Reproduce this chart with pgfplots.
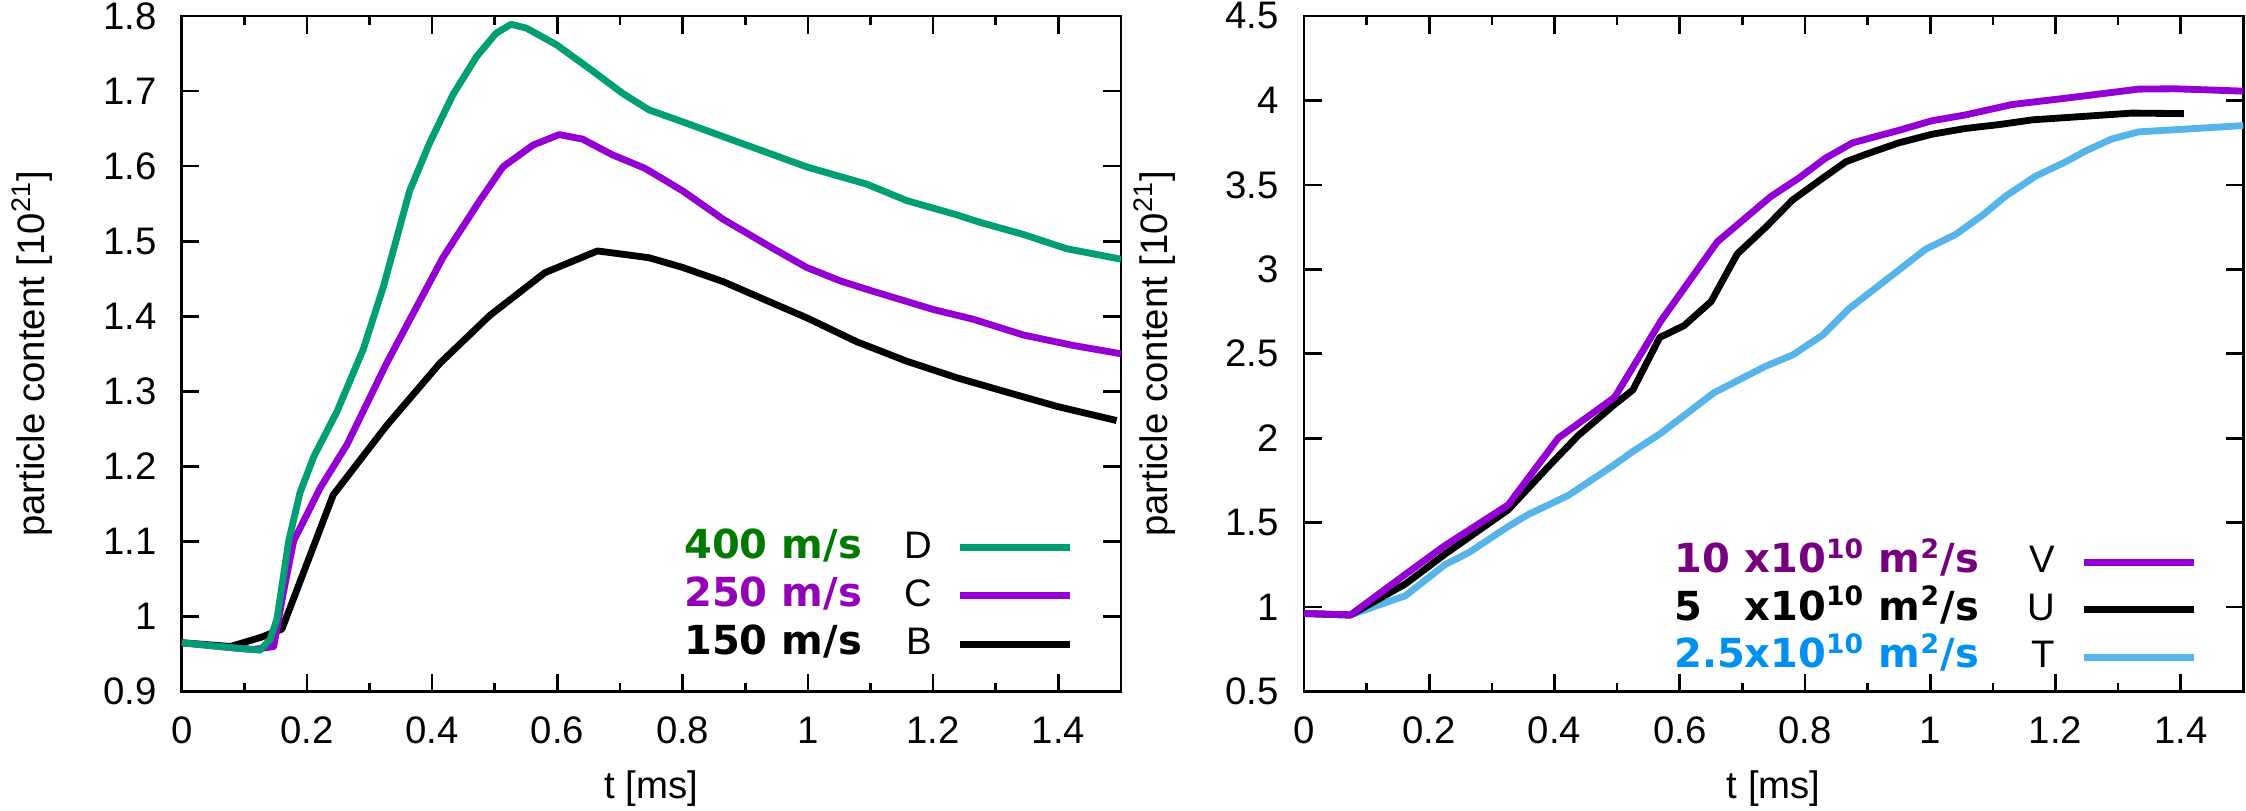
\documentclass[border=0pt]{standalone}
\usepackage{fontspec}
\setmainfont{Liberation Sans}
\newfontfamily\dejavu{DejaVu Sans}
\usepackage{pgfplots}
\pgfplotsset{compat=1.18}
\definecolor{cD}{HTML}{009E73}
\definecolor{cC}{HTML}{9400D3}
\definecolor{cT}{HTML}{56B4E9}
\definecolor{tD}{HTML}{007A00}
\definecolor{tC}{HTML}{9400B8}
\definecolor{tV}{HTML}{77007F}
\definecolor{tT}{HTML}{0090F0}
\newcommand{\lgf}{\dejavu\bfseries\fontsize{12}{14}\selectfont}
\newcommand{\lrf}{\fontsize{11.5}{13}\selectfont}
\newcommand{\gap}{\makebox[7.5pt]{}}
\pgfplotsset{myaxis/.style={
  scale only axis, width=281.8pt, height=202.65pt,
  xmin=0, xmax=1.5,
  xtick={0,0.2,0.4,0.6,0.8,1.0,1.2,1.4},
  minor x tick num=1,
  tick align=inside,
  major tick length=5.3pt, minor tick length=2.6pt,
  axis line style={line width=0.8pt},
  every tick/.style={black, line width=0.8pt},
  every axis plot/.append style={line width=2.05pt, line join=round},
  ticklabel style={font=\lrf},
  /pgf/number format/assume math mode=true,
  yticklabel style={inner sep=0pt, xshift=-7.4pt},
  xticklabel style={inner sep=0pt, yshift=-7.5pt},
  label style={font=\lrf},
  xlabel={t [ms]},
  ylabel={particle content [10\textsuperscript{21}]},
  xlabel style={at={(axis description cs:0.5,-0.1441)}, anchor=center},
  ylabel style={at={(axis description cs:-0.1593,0.5)}, anchor=center},
  legend plot pos=right, legend cell align=right, reverse legend,
  legend image code/.code={\draw[#1] (0pt,0pt) -- (33pt,0pt);},
}}
\begin{document}
\begin{tikzpicture}
\useasboundingbox (0,0) rectangle (673.8pt,243.3pt);
\begin{axis}[myaxis, at={(54.5pt,35.85pt)}, anchor=south west,
  ymin=0.9, ymax=1.8, ytick={0.9,1.0,1.1,1.2,1.3,1.4,1.5,1.6,1.7,1.8},
  legend style={draw=none, fill=none, inner sep=0pt,
    at={(axis description cs:1,0)}, anchor=south east, xshift=-14pt, yshift=8.25pt,
    row sep=3.05pt, nodes={inner sep=0pt, text height=9pt, text depth=2.5pt}},
]
\addplot[black] coordinates {
(0,0.965) (0.078,0.960) (0.126,0.972) (0.160,0.983) (0.242,1.162) (0.327,1.254)
(0.412,1.337) (0.492,1.401) (0.580,1.458) (0.664,1.487) (0.746,1.478) (0.800,1.465)
(0.865,1.446) (0.945,1.417) (0.998,1.398) (1.078,1.366) (1.158,1.340) (1.238,1.318)
(1.317,1.299) (1.397,1.280) (1.493,1.261)};
\addlegendentry{\textcolor{black}{\lgf 150 m/s}\hspace{13pt}\makebox[8pt][r]{\lrf B}\gap}
\addplot[cC] coordinates {
(0,0.965) (0.072,0.959) (0.115,0.956) (0.147,0.960) (0.162,1.03) (0.179,1.101)
(0.221,1.171) (0.264,1.229) (0.327,1.337) (0.417,1.478) (0.476,1.554) (0.513,1.599)
(0.561,1.628) (0.603,1.642) (0.640,1.636) (0.688,1.615) (0.740,1.597) (0.800,1.567)
(0.865,1.529) (0.945,1.490) (0.998,1.465) (1.052,1.447) (1.105,1.433) (1.200,1.409)
(1.264,1.396) (1.344,1.375) (1.424,1.361) (1.5,1.350)};
\addlegendentry{\textcolor{tC}{\lgf 250 m/s}\hspace{13pt}\makebox[8pt][r]{\lrf C}\gap}
\addplot[cD] coordinates {
(0,0.965) (0.072,0.959) (0.125,0.955) (0.141,0.969) (0.152,0.996) (0.160,1.04)
(0.171,1.101) (0.189,1.165) (0.211,1.213) (0.248,1.273) (0.290,1.356) (0.322,1.439)
(0.364,1.567) (0.396,1.631) (0.433,1.695) (0.471,1.746) (0.502,1.777) (0.526,1.789)
(0.550,1.784) (0.598,1.762) (0.651,1.730) (0.704,1.697) (0.746,1.675) (0.800,1.659)
(0.892,1.631) (0.998,1.599) (1.052,1.586) (1.094,1.576) (1.158,1.554) (1.238,1.535)
(1.275,1.525) (1.344,1.509) (1.413,1.490) (1.5,1.476)};
\addlegendentry{\textcolor{tD}{\lgf 400 m/s}\hspace{13pt}\makebox[8pt][r]{\lrf D}\gap}
\end{axis}
\begin{axis}[myaxis, at={(391.2pt,35.85pt)}, anchor=south west,
  ymin=0.5, ymax=4.5, ytick={0.5,1.0,1.5,2.0,2.5,3.0,3.5,4.0,4.5},
  legend style={draw=none, fill=none, inner sep=0pt,
    at={(axis description cs:1,0)}, anchor=south east, xshift=-13.7pt, yshift=4.35pt,
    row sep=2.75pt, nodes={inner sep=0pt, text height=9pt, text depth=2.5pt}},
]
\addplot[cT] coordinates {
(0,0.962) (0.074,0.953) (0.162,1.067) (0.225,1.251) (0.263,1.322) (0.326,1.477)
(0.358,1.548) (0.422,1.661) (0.491,1.831) (0.523,1.916) (0.570,2.030) (0.655,2.270)
(0.737,2.426) (0.780,2.492) (0.828,2.610) (0.870,2.766) (0.934,2.950) (0.993,3.120)
(1.040,3.205) (1.083,3.319) (1.120,3.432) (1.168,3.551) (1.216,3.636) (1.248,3.701)
(1.290,3.772) (1.333,3.814) (1.402,3.829) (1.5,3.851)};
\addlegendentry{\textcolor{tT}{\lgf\makebox[1.76em][l]{2.5}x10\textsuperscript{10} m\textsuperscript{2}/s}\hspace{14.8pt}\makebox[8pt][r]{\lrf T}\gap}
\addplot[black] coordinates {
(0,0.962) (0.074,0.953) (0.162,1.137) (0.225,1.313) (0.326,1.576) (0.390,1.831)
(0.438,2.016) (0.496,2.200) (0.525,2.285) (0.568,2.596) (0.607,2.667) (0.650,2.809)
(0.692,3.092) (0.737,3.248) (0.780,3.410) (0.822,3.523) (0.865,3.636) (0.897,3.681)
(0.950,3.749) (1.003,3.800) (1.056,3.834) (1.110,3.857) (1.163,3.885) (1.243,3.905)
(1.322,3.925) (1.405,3.922)};
\addlegendentry{\textcolor{black}{\lgf\makebox[1.76em][l]{5}x10\textsuperscript{10} m\textsuperscript{2}/s}\hspace{14.8pt}\makebox[8pt][r]{\lrf U}\gap}
\addplot[cC] coordinates {
(0,0.962) (0.074,0.953) (0.162,1.194) (0.225,1.364) (0.326,1.605) (0.406,2.001)
(0.496,2.242) (0.570,2.695) (0.660,3.163) (0.745,3.43) (0.790,3.540) (0.833,3.659)
(0.876,3.749) (0.950,3.823) (1.003,3.880) (1.056,3.914) (1.131,3.976) (1.216,4.013)
(1.333,4.067) (1.391,4.069) (1.5,4.055)};
\addlegendentry{\textcolor{tV}{\lgf\makebox[1.76em][l]{10}x10\textsuperscript{10} m\textsuperscript{2}/s}\hspace{14.8pt}\makebox[8pt][r]{\lrf V}\gap}
\end{axis}
\end{tikzpicture}
\end{document}
